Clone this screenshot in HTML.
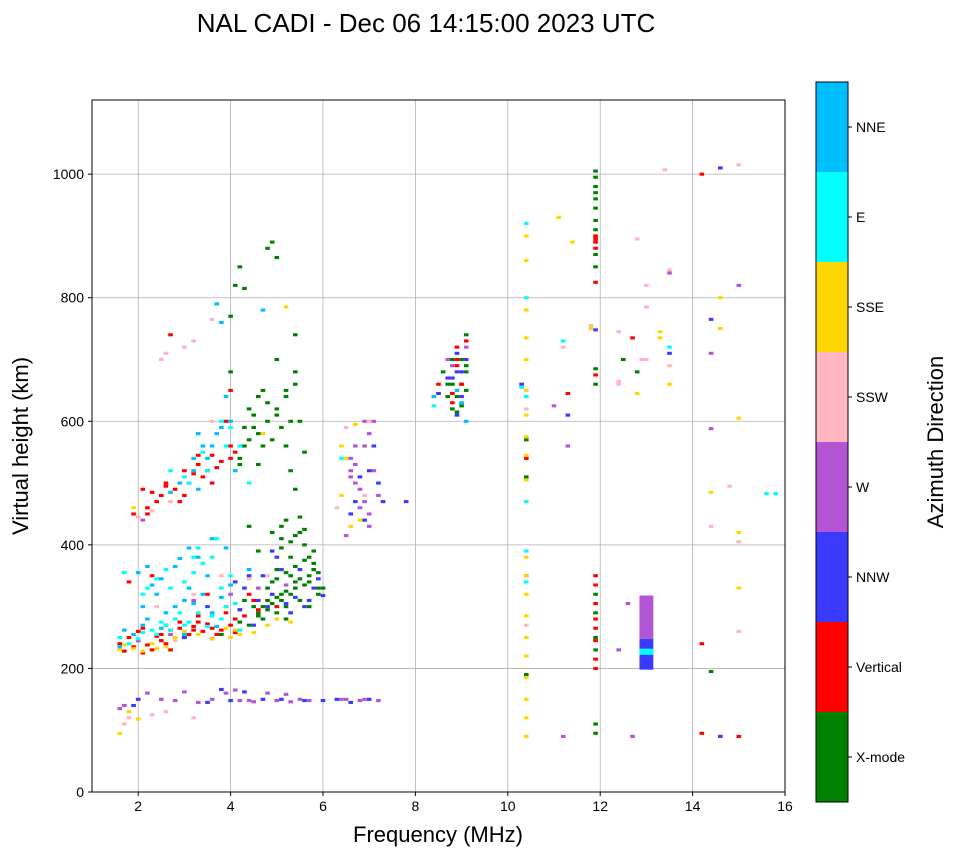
<!DOCTYPE html>
<html><head><meta charset="utf-8">
<style>
body{margin:0;background:#fff;font-family:"Liberation Sans",sans-serif;}
svg{display:block}
</style></head>
<body>
<svg id="chart" width="958" height="857" xmlns="http://www.w3.org/2000/svg" font-family="Liberation Sans, sans-serif">
<text x="426" y="32" font-size="26" text-anchor="middle">NAL CADI - Dec 06 14:15:00 2023 UTC</text>
<g id="grid"></g>
<g id="marks"></g>
<rect x="92" y="100" width="693" height="692" fill="none" stroke="#000" stroke-width="1"/>
<g id="axes"></g>
<text x="438" y="842" font-size="22" text-anchor="middle">Frequency (MHz)</text>
<text transform="translate(28,446) rotate(-90)" font-size="22" text-anchor="middle">Virtual height (km)</text>
<g id="cbar"></g>
<text transform="translate(943,442) rotate(-90)" font-size="22" text-anchor="middle">Azimuth Direction</text>
</svg>
<script>
const dirNames=["X-mode","Vertical","NNW","W","SSW","SSE","E","NNE"];
const dirColors=["#008000","#ff0000","#3a3aff","#b455d6","#ffb6c1","#ffd700","#00ffff","#00bfff"];
const xTicks=[2,4,6,8,10,12,14,16];
const yTicks=[0,200,400,600,800,1000];

const xmodeF=[3.8,4.2,4.5,4.8,5.1,5.4,5.7,5.9,5.0,5.3,5.6,4.7,5.2,5.5,4.9,5.8,5.1,5.5,4.6,4.3,5.3,5.7,4.2,4.4,4.6,4.8,5.0,5.2,5.4,5.2,5.5,4.5,4.7,5.0,5.4,4.0,4.2,4.1,4.3,4.9,4.8,5.0,5.3,5.6,5.4,4.0,4.6,8.8,8.9,9.0,9.1,8.8,9.0,9.1,8.7,8.6,9.1,10.4,10.4,10.4,11.9,11.9,11.9,11.9,11.9,11.9,11.9,11.9,11.9,11.9,11.9,11.9,11.9,11.9,11.9,11.9,11.9,11.9,12.5,12.8,14.4,5.1,4.4,5.8,5.9,
4.6,4.7,4.9,5.0,5.1,5.2,5.3,5.4,5.5,5.6,5.7,5.8,5.9,6.0,4.8,5.0,5.2,5.4,5.6,5.8,5.1,5.3,5.5,5.7,4.9,5.2,5.4,5.6,4.4,4.6,4.8,5.0,5.2,4.3,4.5,4.7,4.9,5.1,5.3,4.4,4.6,4.8,5.0,5.2,5.4,4.2,4.3,8.9,9.0,8.7,9.1,8.8];
const xmodeH=[255,275,300,310,320,330,340,320,360,380,400,280,300,310,340,370,430,445,390,310,350,300,540,570,580,600,620,640,660,560,600,610,650,700,740,770,850,820,815,890,880,865,520,550,490,680,530,620,640,660,680,700,700,740,660,680,650,510,570,190,1005,995,980,970,960,945,925,910,870,850,685,660,230,250,290,320,95,110,700,680,195,410,430,360,330,
290,300,305,315,310,325,320,340,345,335,350,360,355,330,330,345,355,365,375,390,395,405,420,380,420,440,415,425,270,285,295,290,280,560,590,560,570,590,600,620,640,630,610,650,680,530,590,615,625,640,690,660];
const verticalF=[1.6,1.9,2.2,2.5,2.8,3.1,3.4,3.7,4.0,4.3,4.6,5.0,2.0,2.6,3.3,3.9,4.4,1.8,2.3,3.5,2.1,2.9,3.6,4.1,1.9,2.2,2.5,2.8,3.1,3.4,3.7,4.0,4.2,2.4,3.3,3.6,3.9,4.0,2.1,3.0,2.7,2.2,8.9,8.9,9.1,8.8,8.5,10.4,10.4,11.9,11.9,11.9,11.9,11.9,11.9,11.9,11.9,11.9,11.9,11.9,11.9,11.9,11.9,12.7,14.2,14.2,14.2,15.0,11.3,2.7,3.2,
1.7,2.0,2.3,2.4,2.6,2.7,3.0,3.2,3.5,3.8,4.1,4.2,4.5,1.8,2.1,2.5,2.9,3.3,3.6,3.9,2.3,2.6,2.9,3.2,3.5,3.8,4.1,2.6,3.0,3.3,3.6,4.0,8.9,9.0,8.8];
const verticalH=[240,235,238,245,250,255,260,255,270,285,295,300,260,270,275,300,320,340,350,320,225,265,248,258,450,460,480,490,500,510,525,540,560,470,530,500,600,650,490,480,740,450,720,690,730,630,660,540,350,900,890,880,895,825,675,350,335,305,280,265,245,215,200,735,240,1000,95,90,645,230,262,
228,245,230,252,240,262,250,268,272,262,280,295,310,250,265,255,275,285,265,290,485,495,470,515,520,535,550,500,520,545,545,560,700,660,645];
const nnwF=[3.5,4.0,4.7,5.6,6.3,6.6,7.0,3.8,4.3,6.0,2.0,1.9,3.5,4.3,4.8,5.3,5.7,6.0,4.5,5.0,4.1,3.0,5.5,6.7,6.8,7.0,7.2,6.9,7.3,6.6,7.8,7.1,8.9,8.8,9.0,8.5,8.9,9.1,11.3,11.9,14.4,13.5,14.6,14.6,10.3,5.1,4.9,
4.2,4.6,4.9,5.2,5.4,5.8,4.4,5.1,5.6,4.7,5.9,8.9,9.0,8.7];
const nnwH=[145,148,150,148,150,145,150,166,162,148,150,140,300,330,300,290,310,318,270,380,340,250,360,470,510,520,500,440,470,450,470,560,710,670,680,645,610,700,610,748,765,710,1010,90,660,150,390,
295,310,320,305,315,330,350,360,300,350,345,680,640,670];
const wF=[2.5,2.8,3.3,3.6,3.9,4.2,4.5,5.0,5.3,5.5,5.2,6.5,6.8,7.2,1.7,1.6,2.2,3.0,4.1,4.8,3.2,4.0,4.6,5.2,2.0,2.7,2.1,6.6,6.6,6.7,6.9,7.0,7.1,7.2,7.0,6.8,6.5,8.7,9.1,8.8,11.0,11.3,11.2,12.7,12.6,12.4,13.0,13.5,14.4,14.4,15.0,6.4,6.9,4.4,5.7,
6.6,6.7,6.8,6.9,7.0,7.1,6.7,6.9];
const wH=[150,148,145,150,160,148,146,148,146,150,158,150,148,148,140,135,160,162,165,160,310,320,330,335,245,255,440,520,540,500,560,580,600,480,430,460,415,700,720,690,625,560,90,90,305,230,785,840,710,588,820,150,150,148,148,
510,530,490,470,450,520,560,600];
const sswF=[1.8,2.3,2.6,3.2,1.7,2.4,3.2,3.8,4.4,4.8,2.8,2.3,2.7,2.0,2.5,3.6,3.2,3.0,2.6,3.6,6.3,6.5,6.9,7.0,10.4,10.4,10.4,11.2,12.4,12.4,12.4,12.8,13.0,13.0,13.5,13.5,13.4,14.4,14.8,15.0,15.0,15.0,13.0,12.9,11.8];
const sswH=[120,125,130,120,110,300,320,350,345,350,245,455,470,445,700,765,730,720,710,600,460,590,480,600,800,620,270,720,745,665,660,895,700,820,845,690,1007,430,495,405,260,1015,785,700,755];
const sseF=[1.6,1.8,2.0,1.6,1.9,2.3,3.0,3.6,4.0,4.5,5.0,5.3,1.9,4.7,5.2,6.4,6.5,6.6,6.7,6.4,6.8,10.4,10.4,10.4,10.4,10.4,10.4,10.4,10.4,10.4,10.4,10.4,10.4,10.4,10.4,10.4,10.4,10.4,10.4,10.4,10.4,11.1,11.4,11.8,12.8,13.3,13.3,13.5,14.4,14.6,14.6,15.0,15.0,15.0,4.1,2.4,
1.7,2.1,2.6,2.8,3.3,3.9,4.2,4.8];
const sseH=[95,130,118,230,232,240,260,248,250,258,280,275,460,580,785,560,540,430,595,480,440,90,120,150,185,220,250,285,320,350,380,505,545,575,610,650,700,735,780,860,900,930,890,750,645,745,735,660,485,800,750,605,420,330,262,232,
238,228,235,250,255,265,255,270];
const eF=[1.6,2.0,2.4,2.7,3.0,3.5,3.8,4.2,2.2,2.6,3.0,3.4,3.8,1.7,2.9,3.3,2.5,3.0,3.4,3.8,4.2,2.7,4.4,6.4,8.4,10.4,10.4,10.4,10.4,10.4,10.4,10.3,11.2,13.5,15.8,15.6,
1.8,2.1,2.3,2.6,2.8,3.1,3.3,3.6,3.9,4.1,2.1,2.4,2.7,3.2,3.6,4.0,3.1,3.5,3.9,4.0,3.2,3.7];
const eH=[250,248,255,262,270,268,280,262,330,360,340,370,330,355,290,395,275,510,550,600,560,520,500,540,625,640,470,340,390,920,800,655,730,720,483,483,
240,258,262,270,280,275,290,285,300,305,320,345,330,355,380,350,500,520,560,590,380,410];
const nneF=[1.7,2.1,2.5,2.8,3.2,3.6,2.3,2.9,3.5,3.9,2.0,4.4,3.0,3.7,2.4,3.2,3.5,3.8,3.6,4.1,2.9,3.3,3.9,3.7,4.7,3.8,3.3,8.9,9.0,8.4,9.1,1.6,2.1,3.1,
1.9,2.2,2.6,3.0,3.4,3.8,4.0,2.5,2.8,3.3,3.6,3.2,3.4,3.7,4.0,2.7,2.2,3.1];
const nneH=[262,270,265,300,305,290,335,378,350,395,355,360,255,268,320,520,540,590,560,520,500,490,640,790,780,760,580,650,630,640,600,235,300,330,
255,280,290,310,320,315,335,345,365,380,410,540,560,580,600,485,365,395];

// vertical bars (stacked returns) at 13 MHz
const barF=[13.0,13.0,13.0];
const barLo=[248,198,222];
const barHi=[318,248,232];
const barDir=[3,2,6];

const X0=92,X1=785,Y0=792,Y1=100,FMIN=1,FMAX=16,HMIN=0,HMAX=1120;
const xs=f=>X0+(f-FMIN)/(FMAX-FMIN)*(X1-X0);
const ys=h=>Y0-(h-HMIN)/(HMAX-HMIN)*(Y0-Y1);
const NS="http://www.w3.org/2000/svg";
function mk(tag,parent){const e=document.createElementNS(NS,tag);parent.appendChild(e);return e;}

const grid=document.getElementById('grid');
const axes=document.getElementById('axes');
xTicks.forEach(t=>{
  const x=xs(t);
  const l=mk('line',grid);l.setAttribute('x1',x);l.setAttribute('x2',x);l.setAttribute('y1',Y1);l.setAttribute('y2',Y0);l.setAttribute('stroke','#b0b0b0');l.setAttribute('stroke-width','0.8');
  
  
  const k=mk('line',axes);k.setAttribute('x1',x);k.setAttribute('x2',x);k.setAttribute('y1',Y0);k.setAttribute('y2',Y0+4);k.setAttribute('stroke','#000');
  
  
  const tx=mk('text',axes);tx.setAttribute('x',x);tx.setAttribute('y',Y0+19);tx.setAttribute('font-size','14');tx.setAttribute('text-anchor','middle');tx.textContent=t;
  
  
});
yTicks.forEach(t=>{
  const y=ys(t);
  const l=mk('line',grid);l.setAttribute('x1',X0);l.setAttribute('x2',X1);l.setAttribute('y1',y);l.setAttribute('y2',y);l.setAttribute('stroke','#b0b0b0');l.setAttribute('stroke-width','0.8');
  
  
  const k=mk('line',axes);k.setAttribute('x1',X0-4);k.setAttribute('x2',X0);k.setAttribute('y1',y);k.setAttribute('y2',y);k.setAttribute('stroke','#000');
  
  
  const tx=mk('text',axes);tx.setAttribute('x',X0-8);tx.setAttribute('y',y+5);tx.setAttribute('font-size','14');tx.setAttribute('text-anchor','end');tx.textContent=t;
  
  
});

const marks=document.getElementById('marks');
const series=[[xmodeF,xmodeH],[verticalF,verticalH],[nnwF,nnwH],[wF,wH],[sswF,sswH],[sseF,sseH],[eF,eH],[nneF,nneH]];
series.forEach((s,d)=>{
  const [F,H]=s;
  for(let i=0;i<F.length;i++){
    const x0=xs(F[i]-0.05),x1=xs(F[i]+0.05),yt=ys(H[i]+2.5),yb=ys(H[i]-2.5);
    const r=mk('rect',marks);
    r.setAttribute('x',x0);r.setAttribute('y',yt);r.setAttribute('width',x1-x0);r.setAttribute('height',yb-yt);r.setAttribute('fill',dirColors[d]);
    
    
  }
});
for(let i=0;i<barF.length;i++){
  const x0=xs(barF[i]-0.15),x1=xs(barF[i]+0.15),yt=ys(barHi[i]),yb=ys(barLo[i]);
  const r=mk('rect',marks);
  r.setAttribute('x',x0);r.setAttribute('y',yt);r.setAttribute('width',x1-x0);r.setAttribute('height',yb-yt);r.setAttribute('fill',dirColors[barDir[i]]);
  
  
}

const cbar=document.getElementById('cbar');
const CX=816,CW=32,CT=82,CB=802,seg=(CB-CT)/dirNames.length;
dirNames.forEach((n,i)=>{
  const y=CB-(i+1)*seg;
  const r=mk('rect',cbar);r.setAttribute('x',CX);r.setAttribute('y',y);r.setAttribute('width',CW);r.setAttribute('height',seg);r.setAttribute('fill',dirColors[i]);
  
  
  const k=mk('line',cbar);k.setAttribute('x1',CX+CW);k.setAttribute('x2',CX+CW+4);k.setAttribute('y1',y+seg/2);k.setAttribute('y2',y+seg/2);k.setAttribute('stroke','#000');
  
  
  const t=mk('text',cbar);t.setAttribute('x',CX+CW+8);t.setAttribute('y',y+seg/2+5);t.setAttribute('font-size','14');t.textContent=n;
  
  
});
const fr=mk('rect',cbar);fr.setAttribute('x',CX);fr.setAttribute('y',CT);fr.setAttribute('width',CW);fr.setAttribute('height',CB-CT);fr.setAttribute('fill','none');fr.setAttribute('stroke','#000');


</script>
</body></html>
